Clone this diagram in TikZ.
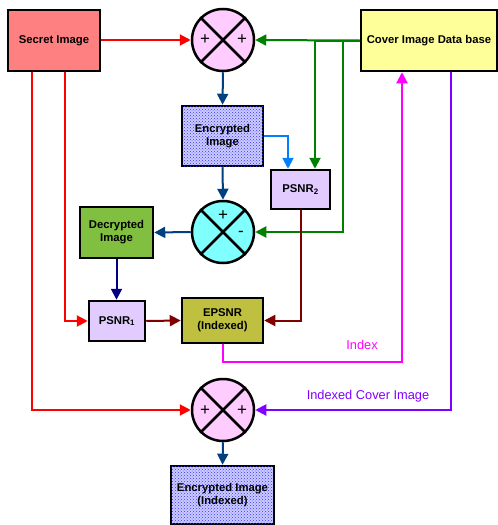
\documentclass[tikz,border=0pt]{standalone}
\usepackage{fontspec}
\setmainfont{Liberation Sans}
\usetikzlibrary{arrows.meta,patterns}

\definecolor{secretred}{HTML}{FF8080}
\definecolor{coveryellow}{HTML}{FFFF99}
\definecolor{mixpink}{HTML}{FFCCFF}
\definecolor{mixcyan}{HTML}{80FFFF}
\definecolor{psnrlilac}{HTML}{E2CCFF}
\definecolor{decgreen}{HTML}{80BF40}
\definecolor{epsnrolive}{HTML}{BFBF40}
\definecolor{encblue}{HTML}{CCCCFF}
\definecolor{steelnavy}{HTML}{004080}
\definecolor{darknavy}{HTML}{000080}
\definecolor{lightblue}{HTML}{0080FF}
\definecolor{darkred}{HTML}{800000}
\definecolor{arrowgreen}{HTML}{008000}
\definecolor{indexpink}{HTML}{FF00FF}
\definecolor{violet}{HTML}{8000FF}

\begin{document}
\begin{tikzpicture}[x=1pt,y=-1pt,
    box/.style={draw=black,line width=2.5pt,inner sep=0pt,align=center,
                font=\bfseries\fontsize{11.3}{13}\selectfont},
    encbox/.style={box,fill=encblue,postaction={pattern=crosshatch dots,pattern color=blue!80}},
    mixer/.style={circle,draw=black,line width=2.5pt,minimum size=62pt,inner sep=0pt},
    sign/.style={font=\fontsize{17}{17}\selectfont},
    wire/.style={line width=2pt,-{Triangle[length=11pt,width=11pt]}},
    lbl/.style={font=\fontsize{12.8}{14}\selectfont}]
    \useasboundingbox (0,0) rectangle (498,525);

    % boxes
    \draw (54,40.5)    node[box,fill=secretred,minimum width=92pt,minimum height=61pt] (secret) {Secret Image};
    \draw (429,40.5)   node[box,fill=coveryellow,minimum width=136pt,minimum height=61pt] (cover) {Cover Image Data base};
    \draw (222.5,136)  node[encbox,minimum width=81pt,minimum height=60pt] (enc) {Encrypted\\Image};
    \draw (300.5,189.5) node[box,fill=psnrlilac,minimum width=59pt,minimum height=39pt] (psnrtwo) {PSNR\textsubscript{2}};
    \draw (116.5,232.5) node[box,fill=decgreen,minimum width=73pt,minimum height=51pt] (dec) {Decrypted\\Image};
    \draw (117,321)    node[box,fill=psnrlilac,minimum width=56pt,minimum height=40pt] (psnrone) {PSNR\textsubscript{1}};
    \draw (222.5,320.5) node[box,fill=epsnrolive,minimum width=81pt,minimum height=45pt] (epsnr) {EPSNR\\(Indexed)};
    \draw (222.5,495)  node[encbox,minimum width=103pt,minimum height=58pt] (encidx) {Encrypted Image\\(Indexed)};

    % mixers
    \draw (223,40)  node[mixer,fill=mixpink] (mixtop) {};
    \draw (223,232) node[mixer,fill=mixcyan] (mixmid) {};
    \draw (223,410) node[mixer,fill=mixpink] (mixbot) {};
    \foreach \m in {mixtop,mixmid,mixbot}
        \draw[line width=2.5pt] (\m.north west) -- (\m.south east)
                                (\m.north east) -- (\m.south west);
    \node[sign] (ptl) at (205,40)  {+};
    \node[sign] (ptr) at (242,40)  {+};
    \node[sign] (pmt) at (223,216) {+};
    \node[sign] (pmr) at (241,234) {-};
    \node[sign] (pbl) at (205,411) {+};
    \node[sign] (pbr) at (242,411) {+};

    % connectors
    \draw[wire,red] (secret.east |- mixtop.west) -- (mixtop.west);
    \draw[wire,red] ([xshift=-22pt]secret.south) |- (mixbot.west);
    \draw[wire,red] ([xshift=11pt]secret.south) |- (psnrone.west);
    \draw[wire,arrowgreen] (cover.west) -- (mixtop.east);
    \draw[wire,arrowgreen] (cover.west) -| ([xshift=14.5pt]psnrtwo.north);
    \draw[wire,arrowgreen] (cover.west) -| ([xshift=88pt]mixmid.east) -- (mixmid.east);
    \draw[wire,steelnavy] (mixtop.south) -- (enc.north);
    \draw[wire,steelnavy] (enc.south) -- (mixmid.north);
    \draw[wire,steelnavy] (mixmid.west) -- (dec.east);
    \draw[wire,lightblue] (enc.east) -| ([xshift=-12.5pt]psnrtwo.north);
    \draw[wire,darknavy] (dec.south) -- (dec.south |- psnrone.north);
    \draw[wire,darkred] (psnrone.east) -- (epsnr.west);
    \draw[wire,darkred] (psnrtwo.south) |- (epsnr.east);
    \draw[wire,indexpink] (epsnr.south) -- ++(0,18) -| ([xshift=-27pt]cover.south);
    \draw[wire,violet] ([xshift=22pt]cover.south) |- (mixbot.east);
    \draw[wire,steelnavy] (mixbot.south) -- (encidx.north);

    % labels
    \node[lbl,text=indexpink] (indexlbl) at (362,345) {Index};
    \node[lbl,text=violet] (coverlbl) at (368,396) {Indexed Cover Image};
\end{tikzpicture}
\end{document}
